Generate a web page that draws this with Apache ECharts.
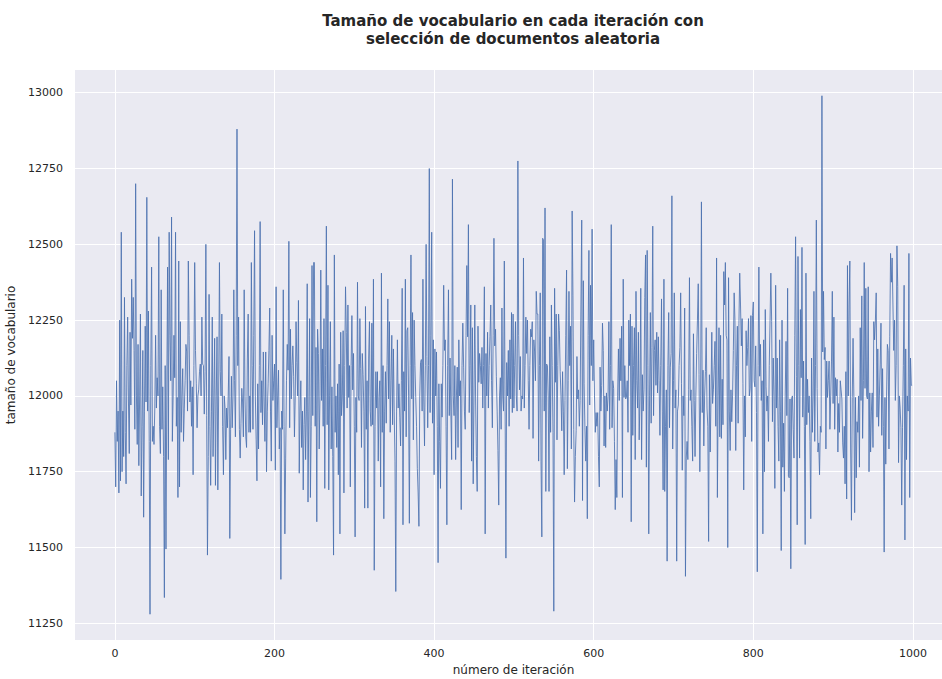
<!DOCTYPE html>
<html>
<head>
<meta charset="utf-8">
<script src="https://cdn.jsdelivr.net/npm/echarts@6/dist/echarts.min.js"></script>
<style>
  html, body { margin: 0; padding: 0; background: #ffffff; overflow: hidden; }
  #chart { width: 942px; height: 679px; }
</style>
</head>
<body>
<div id="chart"></div>
<script>
// Vocabulary size per iteration, random document selection (iterations 0-999).
const iter000 = [11880,11700,12050,11850,11950,11680,12250,11720,12540,11750,11950,11800,12325,11880,11710,12100,12260,11980,11810,12210,
  11970,12385,12190,12325,12150,11890,12700,12000,11840,12170,11770,12000,12270,11670,11900,12150,11600,11950,12230,11980,
  12655,11950,12280,11850,11280,12100,12425,11850,11900,11840,11960,12200,11960,12060,12000,12525,11900,11810,12350,11890,
  12030,11800,11335,12100,11495,12000,12425,11790,12540,12200,12050,12590,11850,12000,12200,12060,12540,11900,11995,11665];
const iter080 = [12445,11700,12245,11880,12000,12090,11850,11960,12050,12170,12145,11950,12445,12200,11980,12050,11900,12030,11740,12100,
  12440,12150,12040,11895,12000,12020,12080,12105,12000,12260,12105,12100,11940,12080,12500,11935,11475,11800,12335,11900,
  11705,11950,12260,11800,12000,12190,11705,12000,12195,11690,12000,12440,12080,12000,12270,11900,11740,12000,11960,11790,
  11960,11895,12000,12130,11530,11890,12065,11895,12000,12350,12050,11865,12200,12880,12100,12260,11890,11795,11910,12025,
  11980,11865,12350,12000,11865];
const iter165 = [11830,12125,12270,11880,12000,11880,12440,12100,11890,12200,12545,12000,11855,11720,12040,11825,12100,12575,11945,12050,
  11905,12145,11980,11850,12145,11750,11950,12040,12150,12290,11950,11785,12200,11985,12050,12105,11755,12360,11895,12000,
  12085,11825,11895,11395,11950,11890,12350,11900,11545,11795,12050,12170,12085,12510,11895,12220,11990,12100,12165,12065,
  11865,12000,12245,12110,12000,12315,11745,11950,12050,11830,11950,11690,11905,11995,11790,11950,12370,11650,11950,12255,
  11665,11900,12430,11935,12440];
const iter250 = [12440,11900,12160,11585,12220,12140,11825,12000,12415,11985,12155,11900,12255,11695,12100,12560,11905,12365,11690,12000,
  12245,11825,12030,11800,11475,12465,11880,12000,11830,12040,11740,12105,11545,12210,11935,12000,12215,11680,12100,12360,
  12210,11960,12300,11995,12100,11700,12100,12265,12020,12140,11900,11535,11995,11880,12375,12000,11985,12255,12090,11830,
  12140,12070,11950,11630,12295,11890,12050,11630,12125,12245,11950,11900,12240,11905,12385,11425,11900,12080,11960,12080,
  11785,11995,12050,11700,12405];
const iter335 = [11880,12100,11595,11950,12080,11910,12100,12320,11990,12245,11880,12050,12200,11905,12155,11950,11785,11355,11950,12185,
  11960,12040,11930,11835,12050,12355,11575,12080,11950,12385,11865,12215,12225,12000,11580,12100,12465,11990,12275,11855,
  12250,12100,11995,11900,11760,11680,11570,12000,12110,12120,11950,12385,11990,11835,12100,12500,12130,11895,12100,12750,
  11945,12200,12540,11910,12185,11740,12155,12000,12145,11900,11450,12040,11850,11695,12040,11930,12100,12365,12150,12185,
  11900,11575,12100,12350,11935];
const iter420 = [12125,11950,11790,12715,12000,11935,12100,11790,12000,12095,11830,12185,12000,12050,11625,12100,12240,12095,11950,11890,
  12200,12430,12195,12565,11945,12100,12300,11785,12225,11710,12000,12300,11990,11800,11685,12230,12045,12140,12100,12040,
  12160,11960,12100,12360,11545,12140,12000,12210,11960,12100,12195,12300,12050,11895,12200,12520,12165,12220,12065,11950,
  11820,11640,12000,12060,11890,12290,12000,11950,12445,11950,11465,12110,12000,12150,11900,12185,11990,12275,11945,12270,
  11960,12100,12245,12000,11950];
const iter505 = [12775,12200,12020,12130,11950,12000,11990,12455,11960,12100,12260,12140,12250,12050,11890,12100,12220,12195,12245,11860,
  12185,12145,12050,12345,12270,12270,11785,12100,12340,11785,11535,12520,12515,11950,12620,11685,12105,12100,12000,11685,
  12195,11880,12300,12100,11880,11290,12355,12045,12270,11855,12100,12270,12215,12080,12000,11885,12080,11950,11740,11985,
  12200,12415,11760,12050,12345,12100,12230,11825,12610,12330,11890,11650,11800,11885,12130,11990,12020,11900,11985,12300,
  12580,11655,12380,12040,11895];
const iter590 = [11785,11900,11595,12200,12480,11970,12365,12100,12550,12050,12185,12000,11880,11945,11900,11945,11800,11700,12095,11950,
  12035,12240,12150,11835,12000,11830,12010,11950,12000,12245,11890,12100,12565,11895,12050,12025,11850,11625,11790,11665,
  12000,12155,11985,12190,12050,12230,11665,12385,11995,12100,11990,11995,12050,11880,12250,12100,12270,11585,12230,11870,
  12100,12225,11790,12345,12050,11960,12210,11855,12000,12355,11790,12070,11950,12020,12325,12465,11765,12480,12100,11545,
  12000,12275,11910,12160,12560];
const iter675 = [11935,12150,12185,12035,12210,12010,12195,12050,11870,12100,12320,11950,11690,12385,11685,11900,12020,11455,12100,12275,
  11895,12095,12140,12660,11825,12050,12340,11960,12020,11455,11950,11970,12100,12160,12340,12040,11755,12000,11935,12290,
  11405,11795,11850,11790,12020,12390,11985,12020,11900,11785,12205,11985,11800,12000,12140,12250,12370,12070,11750,12000,
  12640,11945,12085,11835,12000,12080,12225,11960,11900,11520,12070,11815,12000,12210,11975,12020,12100,12180,11900,12455,
  11665,12000,12225,11865,12200];
const iter760 = [11860,12055,11905,12410,12300,12440,12200,12185,11500,12390,11950,11820,12020,11915,12000,12150,12340,12250,11820,12100,
  12230,11910,12240,12405,12300,12165,12255,12040,11690,12000,11865,12215,12100,12160,12255,12000,12025,12265,11850,12265,
  12310,12050,12030,12165,11945,11420,12100,12425,12065,12170,11985,12050,11545,12185,11750,12285,12030,11950,12000,11850,
  12100,12250,12405,12245,11915,12125,12000,11695,12365,11960,12125,11900,11785,12185,11950,11490,12250,11765,11910,11685,
  12000,12180,11935,12355,11735];
const iter845 = [11730,11990,11430,11990,12000,11890,11795,12200,12525,12065,11575,12460,12100,11795,12285,12060,12490,11930,12115,11900,
  11510,12405,11905,12055,11945,12000,11850,11595,12125,11880,12000,12345,11850,12100,12580,12025,11815,11845,11740,11900,
  11880,12990,12145,12345,12120,12160,11825,12115,11995,12050,12115,11890,12000,12115,12345,11975,12260,11890,12060,12000,
  12055,11815,11975,11880,12050,12020,11990,11845,11795,11900,11710,12080,11660,12430,12000,12300,12445,11825,11590,11995,
  12190,12000,11615,11995,11730];
const iter930 = [11915,11880,12000,11765,12225,11985,12330,11860,12050,12440,12025,12355,12000,11990,12360,11750,12010,11815,11950,12010,
  11830,12245,12185,12250,12340,11930,12155,11900,12000,12105,12240,11870,12090,11900,11485,11995,11775,12000,12170,12150,
  11825,12195,12470,12375,12455,12300,12150,12250,11985,12100,12495,12360,11780,12000,11960,11895,11640,11895,12100,12365,
  11525,12155,11790,12000,11950,12470,11665,12125,12035,12035];

const xTicks = [0, 200, 400, 600, 800, 1000];
const yTicks = [11250, 11500, 11750, 12000, 12250, 12500, 12750, 13000];

const vocabSizes = [].concat(iter000, iter080, iter165, iter250, iter335, iter420,
  iter505, iter590, iter675, iter760, iter845, iter930);
const seriesData = vocabSizes.map((v, i) => [i, v]);

const textColor = '#262626';
const fontFamily = 'DejaVu Sans';
const plainNumber = (v) => String(Math.round(v));

const chart = echarts.init(document.getElementById('chart'), null, { renderer: 'svg' });
chart.setOption({
  animation: false,
  backgroundColor: '#ffffff',
  title: {
    text: 'Tamaño de vocabulario en cada iteración con\nselección de documentos aleatoria',
    left: 508,
    top: 7,
    textAlign: 'center',
    textStyle: {
      fontFamily: fontFamily,
      fontSize: 15,
      fontWeight: 'bold',
      color: textColor,
      lineHeight: 18,
      align: 'center'
    }
  },
  grid: {
    left: 75,
    right: -10,
    top: 70,
    bottom: 39,
    outerBoundsMode: 'none',
    containLabel: false,
    show: true,
    backgroundColor: '#EAEAF2',
    borderWidth: 0
  },
  xAxis: {
    type: 'value',
    min: -50,
    max: 1049,
    name: 'número de iteración',
    nameLocation: 'middle',
    nameGap: 24,
    nameTextStyle: { fontFamily: fontFamily, fontSize: 12, color: textColor },
    axisLine: { show: false },
    axisTick: { show: false, customValues: xTicks },
    axisLabel: {
      customValues: xTicks,
      formatter: plainNumber,
      fontFamily: fontFamily,
      fontSize: 11,
      color: textColor,
      margin: 8
    },
    splitLine: { show: true, lineStyle: { color: '#ffffff', width: 1 } }
  },
  yAxis: {
    type: 'value',
    min: 11195,
    max: 13075,
    name: 'tamaño de vocabulario',
    nameLocation: 'middle',
    nameGap: 53,
    nameTextStyle: { fontFamily: fontFamily, fontSize: 12, color: textColor },
    axisLine: { show: false },
    axisTick: { show: false, customValues: yTicks },
    axisLabel: {
      customValues: yTicks,
      formatter: plainNumber,
      fontFamily: fontFamily,
      fontSize: 11,
      color: textColor,
      margin: 12
    },
    splitLine: { show: true, lineStyle: { color: '#ffffff', width: 1 } }
  },
  series: [{
    type: 'line',
    data: seriesData,
    showSymbol: false,
    symbol: 'none',
    lineStyle: { color: '#4C72B0', width: 1, opacity: 0.85 },
    emphasis: { disabled: true }
  }]
});
</script>
</body>
</html>
